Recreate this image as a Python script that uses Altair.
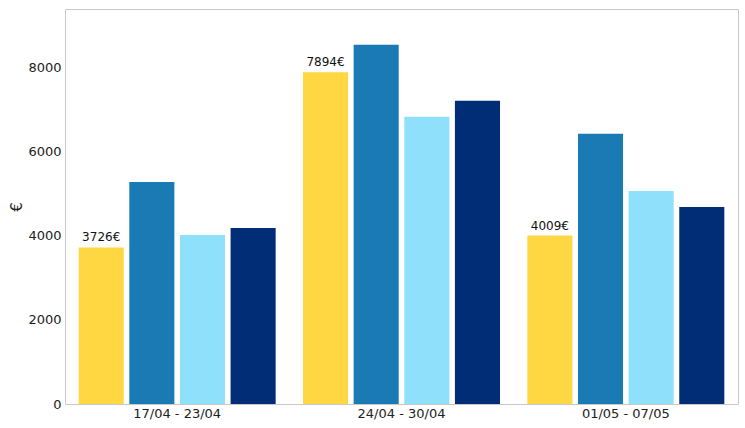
import altair as alt
import pandas as pd

groups = ["17/04 - 23/04", "24/04 - 30/04", "01/05 - 07/05"]
series = ["S1", "S2", "S3", "S4"]
colors = ["#FFD743", "#1A7AB4", "#8FE1FB", "#012D77"]
values = {
    "S1": [3726, 7894, 4009],
    "S2": [5286, 8548, 6429],
    "S3": [4024, 6833, 5071],
    "S4": [4190, 7214, 4690],
}
label_series = "S1"

rows = []
for s in series:
    for g, v in zip(groups, values[s]):
        rows.append({"group": g, "series": s, "value": v,
                     "label": f"{v}€" if s == label_series else ""})
df = pd.DataFrame(rows)

font = "DejaVu Sans"

base = alt.Chart(df).encode(
    x=alt.X("group:N", sort=groups, title=None,
            scale=alt.Scale(paddingInner=0, paddingOuter=0),
            axis=alt.Axis(labelAngle=0, ticks=False, domain=False, labelPadding=3,
                          labelFontSize=13, labelFont=font, labelColor="#222")),
    xOffset=alt.XOffset("series:N", sort=series,
                        scale=alt.Scale(paddingInner=0.11, paddingOuter=0.27)),
    y=alt.Y("value:Q", title="€",
            scale=alt.Scale(domain=[0, 9400], nice=False),
            axis=alt.Axis(values=[0, 2000, 4000, 6000, 8000], format="d", grid=False, ticks=False,
                          domain=False, labelPadding=4, labelFontSize=13, labelFont=font,
                          labelColor="#222", titleFont=font, titleFontSize=15,
                          titleFontWeight="normal", titleColor="#222", titlePadding=3)),
)

bars = base.mark_bar().encode(
    color=alt.Color("series:N", sort=series,
                    scale=alt.Scale(domain=series, range=colors), legend=None)
)

text = base.transform_filter(alt.datum.label != "").mark_text(
    baseline="bottom", dy=-3, font=font, fontSize=12, color="#111"
).encode(text="label:N")

chart = (bars + text).properties(
    width=673, height=395,
    autosize=alt.AutoSizeParams(type="none"),
    padding={"left": 65, "top": 9, "right": 7, "bottom": 24},
).configure_view(stroke="#c8c8c8", strokeWidth=1)

chart.save("out.html", embed_options={"renderer": "svg", "actions": False})
